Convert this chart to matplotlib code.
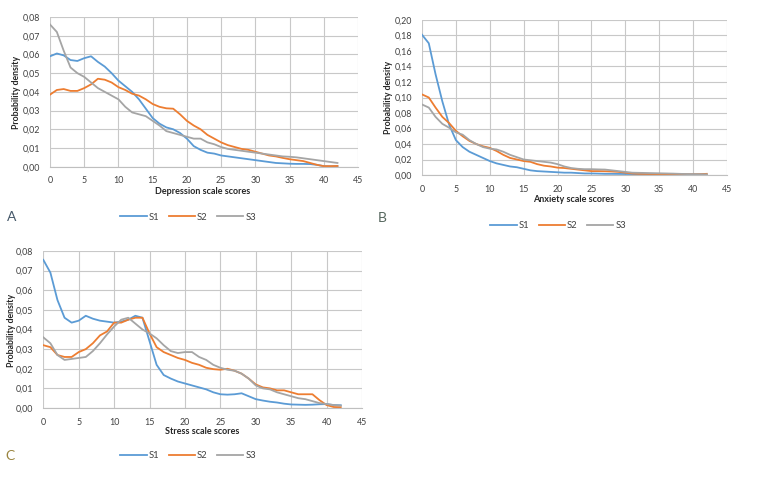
#!/usr/bin/env python3
"""
Probability density of DASS scale scores for three samples (S1, S2, S3).
Three Excel-style panels: depression (A), anxiety (B), stress (C).
"""

import matplotlib

matplotlib.use("Agg")

import matplotlib.pyplot as plt
import numpy as np
from matplotlib.ticker import FuncFormatter, MultipleLocator

# ---- data ----
scores = list(range(0, 43))

depression_s1 = [0.059, 0.0605, 0.0595, 0.057, 0.0565, 0.058, 0.059, 0.056, 0.0535, 0.050,
                 0.046, 0.043, 0.040, 0.036, 0.031, 0.026, 0.023, 0.021, 0.020, 0.018,
                 0.015, 0.011, 0.009, 0.0075, 0.007, 0.006, 0.0055, 0.005, 0.0045, 0.004,
                 0.0035, 0.003, 0.0025, 0.002, 0.0018, 0.0016, 0.0015, 0.0015, 0.0014, 0.001,
                 0.0003, 0.0002, 0.0002]
depression_s2 = [0.0385, 0.041, 0.0415, 0.0405, 0.0405, 0.042, 0.044, 0.047, 0.0465, 0.045,
                 0.0425, 0.041, 0.039, 0.038, 0.036, 0.0335, 0.032, 0.0312, 0.031, 0.028,
                 0.0245, 0.022, 0.020, 0.017, 0.015, 0.013, 0.0115, 0.0105, 0.0095, 0.009,
                 0.008, 0.007, 0.006, 0.0055, 0.0047, 0.004, 0.0035, 0.003, 0.002, 0.001,
                 0.0003, 0.0003, 0.0004]
depression_s3 = [0.076, 0.072, 0.062, 0.053, 0.050, 0.048, 0.045, 0.042, 0.040, 0.038,
                 0.036, 0.032, 0.029, 0.028, 0.027, 0.0245, 0.022, 0.019, 0.018, 0.017,
                 0.016, 0.015, 0.015, 0.013, 0.012, 0.0105, 0.0095, 0.009, 0.0085, 0.008,
                 0.0075, 0.007, 0.0065, 0.006, 0.0055, 0.0053, 0.005, 0.0045, 0.004, 0.0035,
                 0.003, 0.0025, 0.002]

anxiety_s1 = [0.181, 0.170, 0.130, 0.095, 0.065, 0.045, 0.036, 0.030, 0.026, 0.022,
              0.018, 0.015, 0.013, 0.011, 0.010, 0.008, 0.006, 0.005, 0.0045, 0.004,
              0.0035, 0.003, 0.003, 0.0025, 0.002, 0.002, 0.0018, 0.0015, 0.0015, 0.0014,
              0.0013, 0.0012, 0.0011, 0.001, 0.001, 0.001, 0.0009, 0.0009, 0.0008, 0.0008,
              0.0008, 0.0008, 0.0008]
anxiety_s2 = [0.104, 0.100, 0.087, 0.075, 0.067, 0.057, 0.050, 0.044, 0.040, 0.037,
              0.035, 0.031, 0.026, 0.022, 0.020, 0.018, 0.017, 0.014, 0.012, 0.011,
              0.0095, 0.009, 0.008, 0.007, 0.006, 0.005, 0.005, 0.0048, 0.0045, 0.004,
              0.003, 0.002, 0.0015, 0.0014, 0.0013, 0.0012, 0.0011, 0.001, 0.0009, 0.0008,
              0.0008, 0.001, 0.0015]
anxiety_s3 = [0.091, 0.087, 0.075, 0.066, 0.061, 0.055, 0.052, 0.045, 0.040, 0.036,
              0.034, 0.033, 0.030, 0.026, 0.023, 0.020, 0.019, 0.018, 0.017, 0.016,
              0.014, 0.011, 0.009, 0.008, 0.0075, 0.0075, 0.0072, 0.007, 0.006, 0.005,
              0.004, 0.003, 0.0028, 0.0026, 0.0024, 0.0022, 0.002, 0.0018, 0.0015, 0.0012,
              0.001, 0.0009, 0.0008]

stress_s1 = [0.0755, 0.069, 0.055, 0.046, 0.0435, 0.0445, 0.047, 0.0455, 0.0445, 0.044,
             0.0435, 0.044, 0.045, 0.047, 0.046, 0.034, 0.022, 0.0168, 0.015, 0.0135,
             0.0125, 0.0115, 0.0105, 0.0095, 0.008, 0.007, 0.0068, 0.007, 0.0075, 0.006,
             0.0045, 0.0038, 0.0032, 0.0028, 0.0022, 0.0018, 0.0017, 0.0016, 0.0017, 0.0019,
             0.002, 0.0015, 0.0014]
stress_s2 = [0.032, 0.031, 0.027, 0.026, 0.026, 0.0285, 0.030, 0.033, 0.037, 0.039,
             0.0435, 0.0435, 0.045, 0.046, 0.046, 0.038, 0.031, 0.0285, 0.027, 0.0255,
             0.0245, 0.023, 0.022, 0.0205, 0.0198, 0.0195, 0.020, 0.019, 0.0175, 0.015,
             0.012, 0.0105, 0.010, 0.009, 0.009, 0.008, 0.007, 0.007, 0.007, 0.004,
             0.0015, 0.0005, 0.0004]
stress_s3 = [0.036, 0.033, 0.027, 0.0245, 0.025, 0.0255, 0.026, 0.029, 0.033, 0.0375,
             0.0415, 0.045, 0.046, 0.043, 0.040, 0.038, 0.0355, 0.032, 0.029, 0.028,
             0.0285, 0.0285, 0.026, 0.0245, 0.022, 0.0205, 0.0195, 0.019, 0.0175, 0.015,
             0.0115, 0.010, 0.0095, 0.008, 0.007, 0.006, 0.005, 0.0045, 0.0035, 0.0025,
             0.002, 0.0015, 0.0012]

series_names = ["S1", "S2", "S3"]
series_colors = ["#5B9BD5", "#ED7D31", "#A5A5A5"]

W, H = 757, 488
FONT = "Lato"


def px(x, y):
    """Pixel position (from top-left) -> figure fraction."""
    return x / W, 1 - y / H


def comma_fmt(v, _pos):
    return f"{v:.2f}".replace(".", ",")


def draw_panel(fig, box, series, ymax, ystep, xlabel, ylabel_xy, xlabel_xy,
               legend_xy, letter, letter_xy, letter_color):
    left, top, right, bottom = box
    x0, y0 = px(left, bottom)
    x1, y1 = px(right, top)
    ax = fig.add_axes([x0, y0, x1 - x0, y1 - y0])

    for values, name, color in zip(series, series_names, series_colors):
        ax.plot(scores, values, color=color, linewidth=1.3, label=name,
                solid_joinstyle="round")

    ax.set_xlim(0, 45)
    ax.set_ylim(0, ymax)
    ax.xaxis.set_major_locator(MultipleLocator(5))
    ax.yaxis.set_major_locator(MultipleLocator(ystep))
    ax.yaxis.set_major_formatter(FuncFormatter(comma_fmt))
    ax.grid(True, color="#c8c8c8", linewidth=0.8)
    ax.set_axisbelow(True)
    for side in ["top", "right", "left"]:
        ax.spines[side].set_visible(False)
    ax.spines["bottom"].set_color("#bfbfbf")
    ax.tick_params(length=0, labelsize=6.4, labelcolor="#404040", pad=7)
    for lab in ax.get_xticklabels() + ax.get_yticklabels():
        lab.set_fontfamily(FONT)

    fig.text(*px(*ylabel_xy), "Probability density", rotation=90, ha="center",
             va="center", fontsize=6.3, fontweight="bold", family=FONT, color="#262626")
    fig.text(*px(*xlabel_xy), xlabel, ha="center", va="center", fontsize=6.5,
             fontweight="bold", family=FONT, color="#262626")
    fig.legend(*ax.get_legend_handles_labels(), loc="center",
               bbox_to_anchor=px(*legend_xy), ncol=3, frameon=False,
               prop={"family": FONT, "size": 6.8}, handlelength=2.8,
               handletextpad=0.2, columnspacing=1.0, labelcolor="#404040")
    fig.text(*px(*letter_xy), letter, ha="center", va="center", fontsize=10,
             family=FONT, color=letter_color)
    return ax


def main():
    fig = plt.figure(figsize=(W / 100, H / 100), dpi=100)
    fig.patch.set_facecolor("white")

    draw_panel(fig, (50, 17, 358, 166.7),
               [depression_s1, depression_s2, depression_s3],
               0.08, 0.01, "Depression scale scores",
               (17, 92), (203, 192), (188, 217), "A", (12, 217), "#46596a")
    draw_panel(fig, (422, 20, 727, 175),
               [anxiety_s1, anxiety_s2, anxiety_s3],
               0.20, 0.02, "Anxiety scale scores",
               (388, 97), (574, 200), (558, 226), "B", (382, 218), "#56675e")
    draw_panel(fig, (43.3, 251, 362, 408),
               [stress_s1, stress_s2, stress_s3],
               0.08, 0.01, "Stress scale scores",
               (12, 330), (202, 432), (188, 456), "C", (10, 456), "#9a8540")

    fig.savefig("out.png", dpi=100)
    plt.close(fig)


if __name__ == "__main__":
    main()
